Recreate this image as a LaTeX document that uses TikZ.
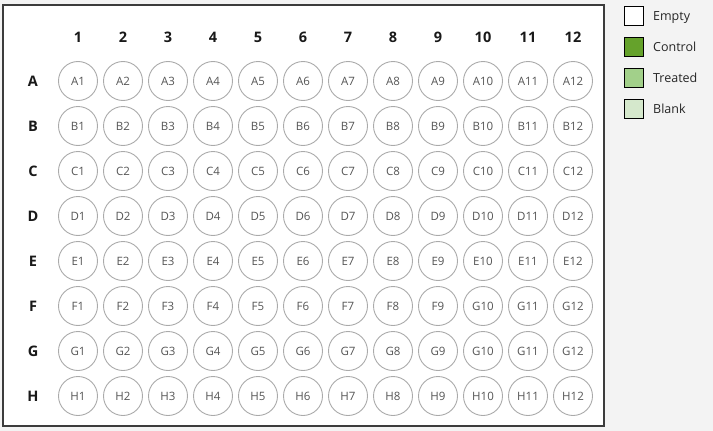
\documentclass[tikz,border=0pt]{standalone}
\usepackage{fontspec}
\setmainfont{Open Sans}
\usetikzlibrary{positioning}

\definecolor{pagebg}{RGB}{243,243,243}
\definecolor{platerim}{RGB}{60,60,60}
\definecolor{wellrim}{RGB}{170,170,170}
\definecolor{welltext}{RGB}{85,85,85}
\definecolor{ctrlgreen}{RGB}{101,162,43}
\definecolor{treatgreen}{RGB}{162,208,138}
\definecolor{blankgreen}{RGB}{213,232,204}

\begin{document}
\begin{tikzpicture}[x=1pt,y=-1pt,
    well node/.style={circle,draw=wellrim,line width=0.9pt,fill=white,
        minimum size=39pt,inner sep=0pt,text=welltext,font=\fontsize{11.5}{12}\selectfont},
    head node/.style={font=\fontsize{14.5}{15}\selectfont\bfseries,text=black!90},
    key box/.style={rectangle,draw=black,line width=0.9pt,minimum size=19pt,inner sep=0pt},
    key node/.style={font=\fontsize{12.5}{13}\selectfont,text=black!85,inner sep=1pt,
        text height=9pt,text depth=0pt}]

  \useasboundingbox (0,0) rectangle (713,431);
  \fill[pagebg] (0,0) rectangle (713,431);
  \draw[platerim,fill=white,line width=1.1pt] (3,5) rectangle (604,426);

  % column numbers and row letters
  \foreach \c in {1,...,12}
    \node[head node] (col\c) at (33+45*\c,37) {\c};
  \foreach \r [count=\i] in {A,B,C,D,E,F,G,H}
    \node[head node] (row\r) at (33,36+45*\i) {\r};

  % the 96 wells
  \foreach \r [count=\i] in {A,B,C,D,E,F,G,H}
    \foreach \c in {1,...,12}{
      \def\wl{\r\c}
      \if\r F\ifnum\c>9 \def\wl{G\c}\fi\fi
      \node[well node] (\r\c) at (33+45*\c,36+45*\i) {\wl};
    }

  % legend
  \node[key box,fill=white] (kEmpty) at (634,16) {};
  \node[key box,fill=ctrlgreen] (kControl) at (634,47) {};
  \node[key box,fill=treatgreen] (kTreated) at (634,78) {};
  \node[key box,fill=blankgreen] (kBlank) at (634,109) {};
  \node[key node] (tEmpty) [right=8pt of kEmpty] {Empty};
  \node[key node] (tControl) [right=8pt of kControl] {Control};
  \node[key node] (tTreated) [right=8pt of kTreated] {Treated};
  \node[key node] (tBlank) [right=8pt of kBlank] {Blank};
\end{tikzpicture}
\end{document}
